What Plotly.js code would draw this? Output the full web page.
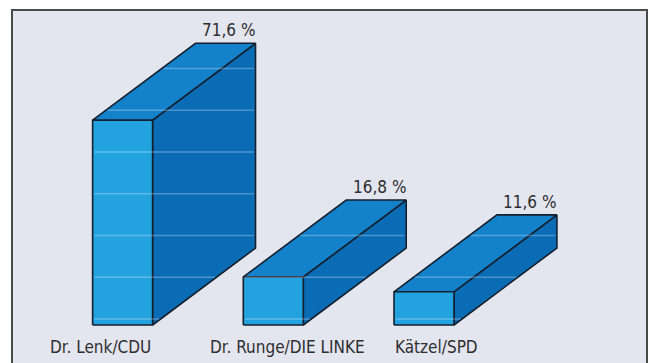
<!DOCTYPE html>
<html>
<head>
<meta charset="utf-8">
<script src="https://cdn.plot.ly/plotly-3.0.1.min.js"></script>
<style>html,body{margin:0;padding:0;background:#fff;}#chart{width:656px;height:363px;}</style>
</head>
<body>
<div id="chart"></div>
<script>
// ---- data ----
const categories = ["Dr. Lenk/CDU", "Dr. Runge/DIE LINKE", "Kätzel/SPD"];
const values = [71.6, 16.8, 11.6];
const valueLabels = ["71,6 %", "16,8 %", "11,6 %"];

// ---- style / geometry (axis units) ----
const barWidth = 0.398;     // front face width, x units
const depthX = 0.683;       // 3D depth offset, x units
const depthY = 26.9;        // 3D depth offset, y units
const labelShift = [-22, 14, 12];   // px shifts for category labels
const stripeStart = 2.1, stripeStep = 14.6;
const FONT = '"DejaVu Sans Condensed", "Liberation Sans Narrow", "DejaVu Sans", sans-serif';
const frontColor = '#22a3df', topColor = '#1382cb', sideColor = '#0a6cb5';
const edge = {color: '#15202e', width: 1.6};

const traces = [];
function poly(xs, ys, color) {
  traces.push({type: 'scatter', mode: 'lines', x: xs.concat([xs[0]]), y: ys.concat([ys[0]]),
    fill: 'toself', fillcolor: color, line: edge, hoverinfo: 'skip', showlegend: false});
}
const stripeX = [], stripeY = [];
values.forEach((v, i) => {
  const x0 = i - barWidth / 2, x1 = i + barWidth / 2;
  // side face
  poly([x1, x1 + depthX, x1 + depthX, x1], [0, depthY, v + depthY, v], sideColor);
  // top face
  poly([x0, x1, x1 + depthX, x0 + depthX], [v, v, v + depthY, v + depthY], topColor);
  // front face
  poly([x0, x1, x1, x0], [0, 0, v, v], frontColor);
  // faint horizontal stripes across the bar silhouette
  for (let Y = stripeStart; Y < v + depthY; Y += stripeStep) {
    const left = Y <= v ? x0 : x0 + depthX * (Y - v) / depthY;
    const right = Y <= depthY ? x1 + depthX * Y / depthY : x1 + depthX;
    stripeX.push(left + 0.01, right - 0.01, null);
    stripeY.push(Y, Y, null);
  }
});
traces.push({type: 'scatter', mode: 'lines', x: stripeX, y: stripeY,
  line: {color: 'rgba(235,240,255,0.3)', width: 1.5}, hoverinfo: 'skip', showlegend: false});

const annotations = [];
values.forEach((v, i) => {
  annotations.push({x: i + depthX, y: v + depthY, xref: 'x', yref: 'y', text: valueLabels[i],
    showarrow: false, yanchor: 'bottom', yshift: 1, xshift: 3,
    font: {family: FONT, size: 17, color: '#2e2e2e'}});
  annotations.push({x: i, y: 0, xref: 'x', yref: 'y', text: categories[i],
    showarrow: false, yanchor: 'top', yshift: -10, xshift: labelShift[i],
    font: {family: FONT, size: 17, color: '#2e2e2e'}});
});

const layout = {
  width: 656, height: 363,
  margin: {l: 0, r: 0, t: 0, b: 0},
  paper_bgcolor: '#ffffff', plot_bgcolor: 'rgba(0,0,0,0)',
  showlegend: false,
  xaxis: {range: [-0.8135, 3.5395], visible: false, fixedrange: true},
  yaxis: {range: [-13.29, 113.64], visible: false, fixedrange: true},
  shapes: [{type: 'rect', xref: 'paper', yref: 'paper', x0: 12/656, x1: 647/656, y0: -0.2, y1: 1 - 10/363,
    fillcolor: '#e3e5ef', line: {color: '#4a4a4a', width: 2}, layer: 'below'}],
  annotations: annotations
};
Plotly.newPlot('chart', traces, layout, {displayModeBar: false, staticPlot: true});
</script>
</body>
</html>
